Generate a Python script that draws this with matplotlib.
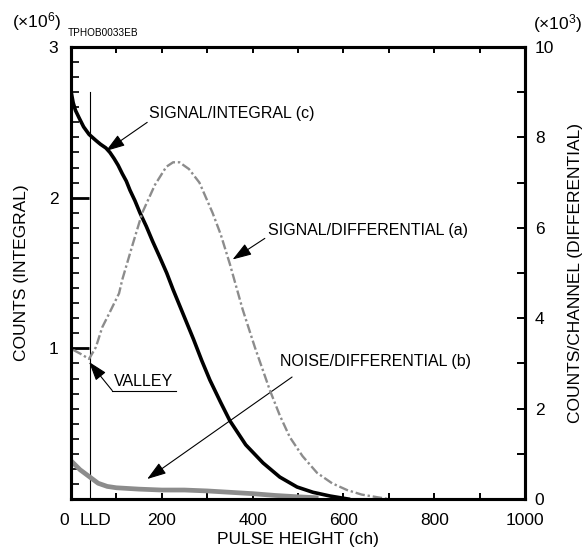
import numpy as np
import matplotlib
matplotlib.use('Agg')
import matplotlib.pyplot as plt
from matplotlib.ticker import MultipleLocator
import matplotlib.transforms as mtransforms

plt.rcParams['font.family'] = ['Liberation Sans', 'DejaVu Sans']
plt.rcParams['mathtext.fontset'] = 'custom'
plt.rcParams['mathtext.rm'] = 'Liberation Sans'
plt.rcParams['mathtext.it'] = 'Liberation Sans'

# signal / integral (c), left axis, x10^6 counts
int_ch = [0, 5, 10, 18, 28, 40, 55, 65, 77, 86, 95, 104, 113, 122, 130, 141, 152,
          166, 180, 195, 211, 225, 240, 255, 270, 288, 306, 330, 350, 385, 423,
          460, 498, 533, 571, 611]
int_val = [2.71, 2.63, 2.58, 2.53, 2.47, 2.42, 2.38, 2.355, 2.33, 2.30, 2.26, 2.215,
           2.16, 2.11, 2.05, 1.98, 1.90, 1.81, 1.71, 1.61, 1.50, 1.39, 1.28, 1.17,
           1.06, 0.92, 0.79, 0.64, 0.52, 0.36, 0.24, 0.146, 0.08, 0.045, 0.02, 0.0]

# signal / differential (a), right axis, x10^3 counts/channel
sig_ch = [5, 20, 40, 55, 69, 84, 106, 113, 135, 157, 185, 210, 225, 239, 260,
          283, 312, 330, 350, 378, 405, 438, 460, 482, 510, 542, 575, 608, 640,
          675, 700]
sig_val = [3.3, 3.22, 3.1, 3.36, 3.8, 4.1, 4.55, 4.85, 5.6, 6.33, 6.95, 7.35,
           7.45, 7.45, 7.3, 7.0, 6.33, 5.85, 5.2, 4.2, 3.36, 2.41, 1.85, 1.37,
           0.95, 0.58, 0.35, 0.2, 0.1, 0.04, 0.0]

# noise / differential (b), right axis
noise_ch = [0, 10, 20, 40, 60, 80, 100, 150, 200, 250, 300, 350, 400, 450, 500, 540]
noise_val = [0.85, 0.75, 0.65, 0.5, 0.35, 0.28, 0.25, 0.22, 0.2, 0.2, 0.18, 0.15,
             0.12, 0.08, 0.05, 0.03]

lld = 42
x_ticks = [0, lld, 200, 400, 600, 800, 1000]
x_labels = ['0', 'LLD', '200', '400', '600', '800', '1000']
left_ticks = [1, 2, 3]
right_ticks = [0, 2, 4, 6, 8, 10]

fig = plt.figure(figsize=(5.86, 5.57), dpi=100)
ax = fig.add_axes([0.121, 0.104, 0.775, 0.8116])
ax2 = ax.twinx()

ax.set_xlim(0, 1000)
ax.set_ylim(0, 3)
ax2.set_ylim(0, 10)

ax2.plot(noise_ch, noise_val, color='#8c8c8c', lw=3.4, solid_joinstyle='round')
ax2.plot(sig_ch, sig_val, color='#8c8c8c', lw=1.7, dashes=[4, 1.2, 1, 1.2])
ax.plot(int_ch, int_val, color='black', lw=2.6, zorder=5)
ax.plot([lld, lld], [0, 2.70], color='black', lw=0.8)

for s in ['left', 'right', 'top', 'bottom']:
    ax.spines[s].set_linewidth(2.2)
    ax2.spines[s].set_linewidth(2.2)

ax.set_xticks(x_ticks)
ax.set_xticklabels(x_labels, fontsize=12.5)
ax.xaxis.set_minor_locator(MultipleLocator(100))
ax.tick_params(axis='x', which='both', direction='in', top=True, length=4,
               width=1.4, pad=10)
lld_tick = ax.xaxis.get_major_ticks()[1]
lld_tick.tick1line.set_visible(False)
lld_tick.tick2line.set_visible(False)
labs = ax.get_xticklabels()
labs[0].set_transform(labs[0].get_transform()
                      + mtransforms.ScaledTranslation(-7 / 100, 0, fig.dpi_scale_trans))
labs[1].set_transform(labs[1].get_transform()
                      + mtransforms.ScaledTranslation(6 / 100, 0, fig.dpi_scale_trans))

ax.set_yticks(left_ticks)
ax.set_yticklabels([str(t) for t in left_ticks], fontsize=12.5)
ax.yaxis.set_minor_locator(MultipleLocator(0.1))
ax.tick_params(axis='y', which='major', direction='in', length=13, width=2.0, pad=9)
ax.tick_params(axis='y', which='minor', direction='in', length=5.5, width=1.2)

ax2.set_yticks(right_ticks)
ax2.set_yticklabels([str(t) for t in right_ticks], fontsize=12.5)
ax2.yaxis.set_minor_locator(MultipleLocator(1))
ax2.tick_params(axis='y', which='both', direction='in', length=6, width=1.4, pad=7)

ax.set_xlabel('PULSE HEIGHT (ch)', fontsize=12.5, labelpad=3)
ax.set_ylabel('COUNTS (INTEGRAL)', fontsize=12.5, labelpad=14)
ax2.set_ylabel('COUNTS/CHANNEL (DIFFERENTIAL)', fontsize=12.5, labelpad=10)

fig.text(0.062, 0.962, r'($\times$10$^{6}$)', fontsize=12.5, ha='center', va='center')
fig.text(0.952, 0.958, r'($\times$10$^{3}$)', fontsize=12.5, ha='center', va='center')
fig.text(0.116, 0.94, 'TPHOB0033EB', fontsize=7.2, ha='left', va='center')

arrow = dict(arrowstyle='-|>,head_length=0.9,head_width=0.3', color='black', lw=0.8,
             shrinkA=0, shrinkB=0, mutation_scale=13)

ax.annotate('', xy=(77, 2.31), xytext=(168, 2.50), arrowprops=arrow)
ax.text(173, 2.56, 'SIGNAL/INTEGRAL (c)', fontsize=11.5, ha='left', va='center')

ax.annotate('', xy=(356, 1.59), xytext=(427, 1.73), arrowprops=arrow)
ax.text(434, 1.785, 'SIGNAL/DIFFERENTIAL (a)', fontsize=11.5, ha='left', va='center')

ax.annotate('', xy=(40, 0.91), xytext=(91, 0.72), arrowprops=arrow)
ax.plot([91, 232], [0.72, 0.72], color='black', lw=0.8)
ax.text(95, 0.78, 'VALLEY', fontsize=11.5, ha='left', va='center')

ax.annotate('', xy=(168, 0.133), xytext=(487, 0.81), arrowprops=arrow)
ax.text(460, 0.91, 'NOISE/DIFFERENTIAL (b)', fontsize=11.5, ha='left', va='center')

fig.savefig('out.png', dpi=100)
